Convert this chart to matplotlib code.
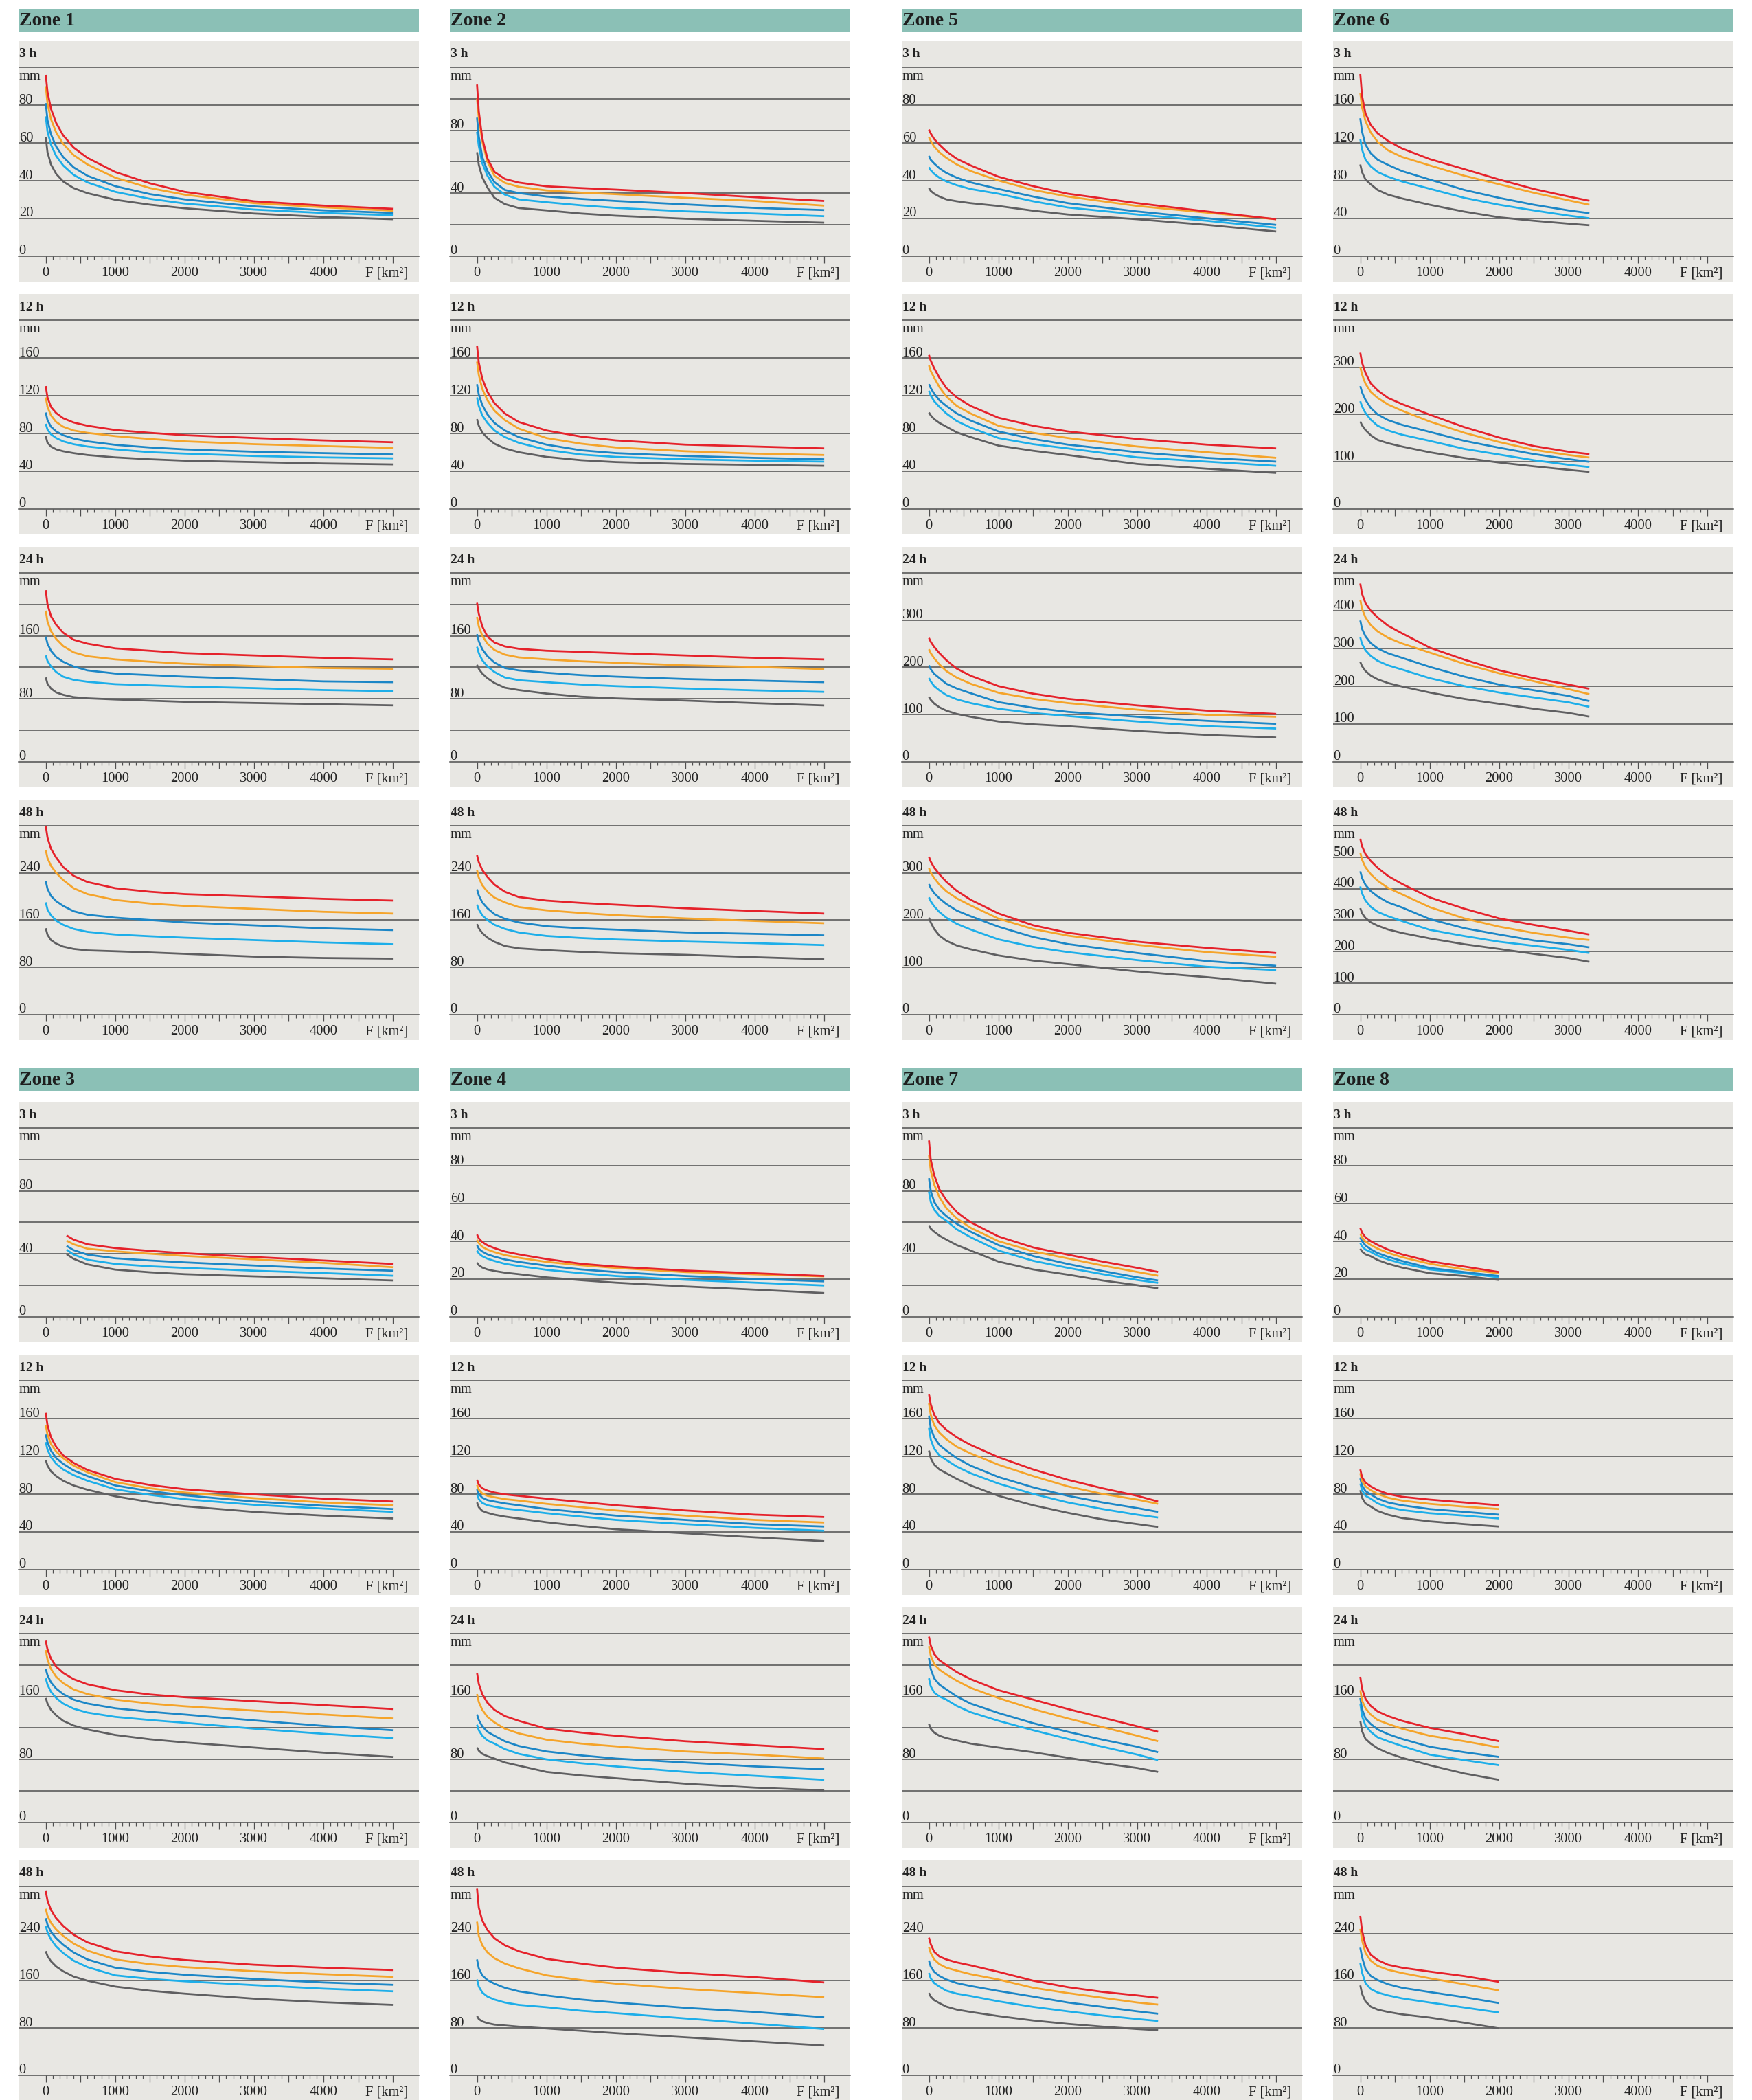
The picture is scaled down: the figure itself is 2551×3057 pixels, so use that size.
import matplotlib
matplotlib.use("Agg")
import matplotlib.pyplot as plt
from matplotlib.patches import Rectangle
from matplotlib.transforms import blended_transform_factory

plt.rcParams['font.family'] = ['Liberation Serif', 'DejaVu Serif']

# ---------------- data ----------------
# area F [km2] sample points at which curve values were read
F_FULL = [0, 25, 75, 150, 250, 400, 600, 1000, 1500, 2000, 3000, 4000, 5000]
F_3300 = [0, 25, 75, 150, 250, 400, 600, 1000, 1500, 2000, 2500, 3000, 3300]
F_2000 = [0, 25, 75, 150, 250, 400, 600, 1000, 1500, 2000]
F_Z3_3H = [300, 400, 600, 1000, 1500, 2000, 3000, 4000, 5000]

SERIES = ["red", "orange", "blue", "lightblue", "gray"]
DURATIONS = ["3 h", "12 h", "24 h", "48 h"]

# each list: red, orange, blue, light blue, gray  (mm)
Z1_3H = [[96, 87, 78, 70.5, 64, 57.5, 52, 44.5, 38.5, 34, 29, 26.7, 25],
         [90, 81, 72.5, 65.5, 59.5, 53.5, 48.5, 41.5, 36, 32.5, 28, 25.8, 24],
         [81, 72, 64.5, 58, 52.5, 47, 42.5, 37, 32.8, 30, 26.3, 24.2, 22.8],
         [74, 66, 59, 53, 48, 43, 39, 34, 30.3, 27.8, 24.6, 22.8, 21.6],
         [63, 55, 48.5, 43.5, 39.5, 36, 33.3, 29.8, 27.2, 25.3, 22.5, 20.7, 19.5]]
Z1_12H = [[130, 118, 108, 101.5, 96, 91.5, 88, 83.5, 80.5, 78, 75, 72.5, 70.5],
          [118, 108, 99, 92, 87, 83, 80.5, 77, 74, 71.5, 68.5, 66.5, 64.5],
          [102, 94, 87, 82, 78, 74.5, 71.5, 67.8, 65, 63, 60.5, 59, 57.6],
          [90, 84, 79, 75, 71.5, 68.5, 66, 63, 60, 58.5, 56, 54.5, 53.5],
          [77, 70, 66, 63, 61, 59, 57, 54.5, 52.5, 51, 49.5, 48, 47]]
Z1_24H = [[218, 200, 185, 174, 164, 155, 150, 144, 141, 138, 135, 132, 130],
          [192, 178, 166, 156, 147, 139, 134, 130, 127, 124.5, 121.5, 119, 118],
          [159, 150, 141, 133, 127, 121, 116, 112, 110, 108, 105, 102, 101],
          [135, 128, 121, 114, 108, 104, 101.5, 98.5, 97, 95.5, 93.5, 91, 89.5],
          [107, 99, 93, 88, 85, 82, 80.5, 79, 77.5, 76, 74.5, 73, 71.5]]
Z1_48H = [[320, 300, 281, 266, 250, 235, 224.5, 214, 208, 204, 200, 196, 193],
          [279, 265, 252, 240, 228, 214, 204, 194, 188, 184, 179, 174, 171],
          [226, 213, 201, 192, 184, 175, 169, 164, 160, 156, 151, 146, 143],
          [190, 178, 168, 159, 152, 145, 140, 135.5, 132.5, 130, 126, 122, 119],
          [146, 135, 126, 120, 115, 111, 108.5, 107, 105, 102.7, 98, 95.6, 94.5]]

Z2_3H = [[109, 92, 75, 62, 53.5, 49, 46.7, 44.3, 43.2, 42.2, 40, 37.4, 35],
         [100, 88, 73, 60, 51, 46.5, 44, 41.7, 40.3, 39.3, 37, 35, 32],
         [88, 76, 63, 54, 47, 42, 40, 37.8, 36.3, 35, 32.8, 30.6, 29.2],
         [79, 70, 59, 51, 44, 39, 36, 34.2, 32.2, 30.6, 28.4, 27, 25.3],
         [66, 58, 50, 43.5, 37, 33, 30.5, 29, 27, 25.6, 23.7, 22.4, 21.2]]
Z2_12H = [[173, 155, 138, 124, 112, 101, 92, 83, 76.5, 72.5, 68, 66, 64],
          [156, 142, 127, 115, 104, 94, 85, 75, 69, 65, 61, 58.5, 57],
          [132, 121, 110, 100, 91, 83, 76, 68, 62, 59, 56, 54, 52.5],
          [118, 109, 99, 91, 83, 76, 70, 62.5, 57.5, 55, 52.5, 51, 50],
          [95, 88, 81, 75, 69, 64, 60, 55, 51.5, 49.5, 47.5, 46.5, 45.5]]
Z2_24H = [[202, 188, 172, 159, 151.5, 146.5, 143.5, 141, 139.5, 138, 135, 132, 130],
          [184, 172, 160, 150, 142, 136, 132.5, 130, 127.5, 125.7, 122.4, 120.4, 117.6],
          [162, 153, 143, 134, 126, 119, 116, 113, 110, 108, 105, 103, 101],
          [146, 138, 129, 121, 114, 107, 103.5, 101, 98, 96, 93, 90.6, 88.6],
          [123, 118, 112, 106, 100, 94, 91, 86.5, 82.5, 80.4, 77.6, 74.3, 71.4]]
Z2_48H = [[270, 258, 245, 233, 220, 208, 199, 193, 189, 186, 180, 175.4, 171],
          [245, 232, 219, 208, 198, 190, 182, 176.5, 172, 168.3, 162.8, 158.5, 154.6],
          [212, 202, 190, 180, 170, 162, 156, 149.5, 146, 143.7, 139, 136.6, 134],
          [186, 178, 168, 160, 152, 145, 139, 133, 129.5, 127, 123.5, 120.8, 117.5],
          [153, 146, 138, 130, 123, 116, 112, 109, 106, 103.8, 101, 97, 93.4]]

Z5_3H = [[67, 65, 62, 59, 55.5, 51.5, 48, 42, 37, 33, 28, 23.6, 19.5],
         [63, 61, 58, 55, 52, 48.5, 45, 40, 35, 31.5, 26.5, 23, 19.5],
         [53, 51, 49, 46.5, 44, 41.5, 39, 35.5, 31.5, 28, 23.6, 20, 16.5],
         [47, 45.5, 43.5, 41.5, 39.5, 37.5, 35.5, 33, 29, 25.7, 22, 18.7, 15],
         [36, 34.5, 33, 31.5, 30, 29, 28, 26.5, 24, 22, 19.5, 16.5, 13]]
Z5_12H = [[163, 157, 149, 139, 128, 118, 109, 96.5, 88, 82, 74, 68, 64],
          [152, 146, 139, 129, 119, 109, 101, 88, 80.5, 75, 66, 60, 54],
          [132, 128, 122, 115, 109, 101, 93.5, 82, 74, 68, 60, 54, 50],
          [125, 120, 114, 108, 101, 93, 86, 75, 68.5, 64, 54.5, 50, 45.5],
          [102, 99, 95, 91, 87, 81, 76, 67, 61.5, 57, 47.5, 42.5, 38]]
Z5_24H = [[262, 254, 243, 230, 215, 197, 182, 160, 144, 133, 119, 108, 101],
          [238, 230, 219, 206, 192, 178, 165, 146, 133, 124, 110, 99, 95],
          [204, 196, 186, 177, 165, 155, 145, 126, 114, 105.4, 95, 86.4, 80],
          [177, 170, 160, 151, 141, 132, 124, 112, 103, 96.6, 85, 75, 70],
          [137, 131, 123, 115, 108, 101, 95, 85, 79, 75, 65, 56.5, 51]]
Z5_48H = [[334, 324, 311, 297, 281, 262, 243, 214, 189, 173, 154, 141, 130],
          [310, 301, 289, 275, 261, 246, 231, 203, 181, 167, 147.4, 132, 122],
          [276, 268, 257, 246, 234, 220, 208, 186, 164, 149, 130, 113, 103],
          [248, 240, 229, 217, 205, 192, 180, 159, 143, 132, 115, 101, 94],
          [205, 195, 181, 167, 156, 146, 138, 125, 114, 106.5, 91, 79, 65]]

Z6_3H = [[193, 170, 151, 139, 130, 122, 114, 102.7, 92, 81, 71, 63, 58.5],
         [173, 158, 143, 131, 121, 112, 105, 96, 85, 76, 67, 59, 54.3],
         [146, 132, 118, 109, 102, 96.5, 90, 81, 70, 61.6, 54.3, 48.3, 45.4],
         [124, 113, 102, 95, 89, 84, 79, 71.3, 61.6, 54.3, 48.3, 42.8, 40],
         [97, 89, 81, 76, 70, 65, 61, 54.3, 47, 41, 37.4, 34.3, 32.6]]
Z6_12H = [[331, 310, 288, 266, 251, 235, 222, 199.5, 173, 151, 133, 121, 116],
          [301, 285, 265, 248, 235, 221, 208, 185, 161, 141.5, 125, 114, 108.7],
          [260, 247, 231, 214, 200, 188, 178, 163, 144, 129.5, 116, 105.3, 99.5],
          [228, 217, 203, 189, 176, 166, 157, 144, 127, 115, 103, 93.2, 88.4],
          [185, 177, 167, 156, 146, 139, 132, 119.8, 107.7, 98, 90, 82.6, 78.3]]
Z6_24H = [[472, 445, 420, 400, 382, 360, 340, 302, 270, 242, 221, 204, 193],
          [429, 405, 382, 362, 345, 328, 313, 289, 259, 234, 213, 192, 178.6],
          [374, 352, 332, 314, 300, 287, 275, 251, 225, 204, 189, 174, 160],
          [329, 312, 295, 280, 267, 255, 244, 221, 200, 183, 170, 157, 145],
          [264, 253, 240, 228, 218, 208, 199, 183, 166, 153, 140, 129, 119]]
Z6_48H = [[559, 535, 510, 488, 466, 440, 415, 372, 336, 305, 284.5, 266, 254],
          [515, 492, 468, 446, 425, 402, 382, 341, 305, 279, 259, 243.6, 236.4],
          [455, 434, 412, 392, 375, 356, 340, 303, 274, 254, 235, 223, 213],
          [407, 385, 362, 342, 326, 312, 297, 269, 249, 231, 218, 205, 195],
          [338, 322, 306, 293, 282, 270, 259, 241.5, 223, 208, 192.4, 179, 167]]

Z3_3H = [[51.6, 49, 46, 43.6, 41.8, 40.3, 37.9, 35.7, 33.5],
         [48.3, 46, 43.2, 41.5, 40, 38.6, 36.4, 34.2, 31.4],
         [45, 42.3, 39.4, 37.1, 35.7, 34.5, 32.5, 30.6, 29.2],
         [42.6, 39.5, 36.2, 33.5, 32, 31, 29.2, 27.7, 26],
         [39.7, 36.8, 33.2, 29.9, 28.2, 27, 25.6, 24.4, 23]]
Z3_12H = [[166, 153, 140, 130, 121, 113, 105.5, 96, 89.5, 85, 79.5, 75, 72],
          [153, 143, 133, 125, 118, 110, 103, 92.5, 86, 81.5, 75.5, 71, 68],
          [143, 135, 126, 118, 112, 105, 99, 89, 83, 78.5, 72, 67.5, 64],
          [135, 127, 119, 112, 106, 100, 94, 85, 79, 74.5, 68.5, 64.5, 61],
          [116, 110, 104, 99, 94, 89, 84.5, 77.5, 71.5, 67, 61, 57, 54]]
Z3_24H = [[231, 220, 208, 198, 190, 182, 175.5, 168, 162.5, 159, 154, 149, 144],
          [219, 207, 195, 185, 177, 169, 163, 156, 151, 147.5, 142, 137, 132],
          [195, 187, 178, 170, 163, 156, 151, 145, 140.5, 137, 129.5, 122.5, 117],
          [183, 175, 166, 158, 151, 144.5, 139.5, 134, 130, 126.5, 119, 112.5, 107],
          [158, 151, 143, 136, 129, 123, 118, 111, 105.5, 101.5, 95, 88.5, 83]]
Z3_48H = [[312, 296, 280, 266, 253, 238, 225, 210, 201, 195, 187, 182, 178],
          [282, 270, 258, 247, 236, 223, 211, 196, 188, 183, 176, 171, 166.5],
          [266, 255, 243, 232, 221, 208, 196, 182, 175, 170, 163, 157, 153],
          [253, 242, 230, 218, 207, 194, 183, 169, 163, 159, 152.5, 146.5, 142],
          [210, 202, 193, 184, 176, 167, 160, 150, 143, 138, 129.5, 123.5, 119]]

Z4_3H = [[43.5, 41.5, 39.5, 37.8, 36.3, 34.5, 33, 30.5, 28, 26.5, 24.4, 23, 21.5],
         [40.7, 39, 37, 35.5, 34.2, 32.6, 31.2, 29, 27.2, 25.8, 23.6, 22.4, 21.3],
         [37.8, 36, 34.5, 33, 31.8, 30.3, 29, 27, 25, 23.6, 21.5, 20, 18.7],
         [35, 33.5, 32, 30.7, 29.5, 28, 26.8, 24.8, 23, 21.5, 19.5, 18, 16.5],
         [28.6, 27.3, 26, 25, 24.2, 23.3, 22.5, 20.8, 19.3, 18, 16, 14.3, 12.5]]
Z4_12H = [[95, 90, 86, 83.5, 81.5, 79.5, 78, 75, 71.5, 68, 62.5, 58, 55.5],
          [89.5, 84.5, 80.5, 78, 76.5, 74.5, 73, 69.5, 66, 62.5, 57, 52.5, 49.7],
          [85, 80, 76, 73.5, 72, 70, 68, 64, 60.5, 57, 52.5, 48, 45.4],
          [79.5, 74.5, 70.5, 68, 66.5, 64.5, 63, 59.6, 56, 52.5, 48, 44, 41],
          [71, 66, 62, 60, 58, 56, 54, 50, 46, 42.6, 38.3, 34, 30]]
Z4_24H = [[190, 176, 163, 152, 143, 135, 129, 119, 114, 110, 103, 98, 93],
          [163, 153, 143, 134, 127, 119, 113, 105, 100, 96.5, 90, 86, 81],
          [137, 130, 122, 115, 110, 103, 97, 90, 85, 81, 76, 71, 67.5],
          [124, 117, 110, 104, 100, 93, 87, 80, 75, 71, 64, 59, 54],
          [95, 91, 87, 84, 81, 76, 72, 64, 59.5, 56, 49, 44, 40.5]]
Z4_48H = [[316, 284, 262, 246, 232, 220, 210, 197, 189, 182, 173, 166, 157],
          [260, 236, 220, 208, 198, 189, 181, 169, 161, 155, 146, 139, 132],
          [196, 181, 169, 161, 155, 148, 142, 135, 128, 123, 114, 107, 98],
          [162, 150, 140, 133, 128, 123, 119, 115, 109, 105, 96, 87, 78],
          [100, 95, 91, 88, 85.5, 84, 82, 79, 75, 71, 64, 57, 50]]

Z7_3H = [[112, 100, 90, 81, 74, 66.5, 60, 51, 44, 39.4, 35, 31, 28.4],
         [103, 93, 84, 76, 69, 62.5, 56.5, 48, 41.5, 37, 32.5, 28.4, 26],
         [88, 80, 73, 68, 64, 59, 54, 45.5, 38.5, 33.5, 29, 25, 23],
         [79.5, 73, 68, 64, 61, 55.5, 50.5, 42, 35.5, 31, 27, 23.3, 21.5],
         [58, 56, 54, 51.5, 49, 45.5, 42, 35, 30, 26.7, 23, 20, 18]]
Z7_12H = [[186, 175, 164, 155, 148, 140, 132, 119, 106, 95, 86, 78, 72],
          [176, 164, 153, 145, 138, 130, 123, 111, 99, 88, 80, 74, 69.5],
          [163, 150, 140, 132, 126, 118, 110, 98, 87, 78, 71, 65, 61],
          [150, 138, 128, 121, 116, 109, 102, 91, 80, 71, 64, 58, 55],
          [126, 118, 111, 106, 102, 96, 89, 78, 68, 60, 53, 48, 45]]
Z7_24H = [[236, 225, 214, 206, 200, 191, 182, 168, 156, 144, 133, 122, 115],
          [224, 212, 201, 194, 188, 180, 171, 158, 144, 132, 121, 110, 103],
          [209, 195, 183, 175, 169, 160, 151, 139, 126, 115, 105, 96, 89],
          [183, 173, 165, 160, 156, 148, 140, 129, 117, 106, 96, 86, 79],
          [125, 119, 114, 110, 107, 104, 100, 95, 89, 82, 75, 69, 64]]
Z7_48H = [[233, 222, 209, 201, 196, 191, 186, 175, 160, 149, 141, 135, 131],
          [217, 207, 196, 188, 182, 177, 171, 162, 148, 139, 131, 123, 119.5],
          [194, 184, 175, 168, 162, 156, 151, 142.6, 133, 123, 115.6, 108, 104],
          [173, 164, 156, 150, 143, 138, 134, 125, 115.6, 108, 101, 95, 91.7],
          [139, 133, 127, 122, 116, 111, 107, 100, 92.5, 86.7, 82, 78, 76]]

Z8_3H = [[47, 44.5, 42, 40, 38, 35.5, 33, 29.3, 26.5, 23.6],
         [44, 42, 39.8, 38, 36, 33.8, 31.5, 28, 25, 23],
         [42, 40, 37.7, 35.7, 33.7, 31.7, 29.5, 25.8, 23.6, 21.5],
         [39, 37.2, 35.5, 34.3, 32.3, 30.3, 28.2, 25, 23, 20.8],
         [36, 34.5, 33, 32, 30, 28, 26, 23, 21.5, 19.4]]
Z8_12H = [[106, 98, 92, 88, 84, 80, 77, 74, 71, 68],
          [102, 94, 88, 84, 80, 76, 73, 69.5, 66.5, 64],
          [96.5, 89, 83, 79.5, 75, 71, 68, 64, 61, 58],
          [91, 84, 78, 75, 70, 66, 63, 59.6, 57, 54],
          [84, 76, 70, 66.7, 62, 58, 54.5, 51, 48, 45.4]]
Z8_24H = [[185, 170, 157, 148, 141, 135, 129, 120, 112, 103],
          [168, 155, 145, 137, 130, 125, 119, 110, 103, 95],
          [158, 144, 132, 125, 118, 112, 106, 96, 89, 83],
          [151, 135, 123, 115, 108, 103, 97, 86, 79, 72.5],
          [129, 116, 106, 100, 94, 88, 82, 72.5, 62, 54]]
Z8_48H = [[270, 245, 220, 204, 195, 187, 182, 175.4, 167.7, 158],
          [248, 229, 207, 194, 185, 178.5, 173, 164, 154, 143.4],
          [216, 200, 180, 168, 161, 154, 148, 140.7, 132, 122],
          [190, 174, 156, 146, 140, 135, 130, 123, 114.5, 106],
          [152, 138, 125, 116, 111, 107, 103, 97.5, 88.7, 79]]

# y-axis grids: (top value, step, labelled values)
Y_100 = (100, 20, [0, 20, 40, 60, 80])
Y_120 = (120, 20, [0, 40, 80])
Y_200 = (200, 40, [0, 40, 80, 120, 160])
Y_240 = (240, 40, [0, 80, 160])
Y_320 = (320, 80, [0, 80, 160, 240])
Y_400 = (400, 100, [0, 100, 200, 300])
Y_500 = (500, 100, [0, 100, 200, 300, 400])
Y_600 = (600, 100, [0, 100, 200, 300, 400, 500])

ZONES = [
    # name, column, group, F grid per panel, data per panel, y grid per panel
    ("Zone 1", 0, 0, [F_FULL] * 4, [Z1_3H, Z1_12H, Z1_24H, Z1_48H], [Y_100, Y_200, Y_240, Y_320]),
    ("Zone 2", 1, 0, [F_FULL] * 4, [Z2_3H, Z2_12H, Z2_24H, Z2_48H], [Y_120, Y_200, Y_240, Y_320]),
    ("Zone 5", 2, 0, [F_FULL] * 4, [Z5_3H, Z5_12H, Z5_24H, Z5_48H], [Y_100, Y_200, Y_400, Y_400]),
    ("Zone 6", 3, 0, [F_3300] * 4, [Z6_3H, Z6_12H, Z6_24H, Z6_48H], [Y_200, Y_400, Y_500, Y_600]),
    ("Zone 3", 0, 1, [F_Z3_3H, F_FULL, F_FULL, F_FULL], [Z3_3H, Z3_12H, Z3_24H, Z3_48H], [Y_120, Y_200, Y_240, Y_320]),
    ("Zone 4", 1, 1, [F_FULL] * 4, [Z4_3H, Z4_12H, Z4_24H, Z4_48H], [Y_100, Y_200, Y_240, Y_320]),
    ("Zone 7", 2, 1, [F_3300] * 4, [Z7_3H, Z7_12H, Z7_24H, Z7_48H], [Y_120, Y_200, Y_240, Y_320]),
    ("Zone 8", 3, 1, [F_2000] * 4, [Z8_3H, Z8_12H, Z8_24H, Z8_48H], [Y_100, Y_200, Y_240, Y_320]),
]

# ---------------- style / layout ----------------
W, H = 2551, 3057
COLORS = {"red": "#E5222B", "orange": "#F5A42A", "blue": "#1C86C6",
          "lightblue": "#1DAEE9", "gray": "#5F5F61"}
BG = "#E8E7E3"
HEAD = "#8BC0B6"
GRID = "#4F4F4F"
TXT = "#222222"
FS = 14.8

COL_X = [27, 655, 1313, 1941]
PW = 583
PH = 350
HEAD_Y = [13, 1555]
HEAD_H = 33
PANEL_Y = [[60, 428, 796, 1164], [1604, 1972, 2340, 2708]]

fig = plt.figure(figsize=(W / 100, H / 100), dpi=100)
fig.patch.set_facecolor("white")


def fig_rect(x, y, w, h):
    return [x / W, 1 - (y + h) / H, w / W, h / H]


def draw_panel(x, y, title, F, curves, ygrid):
    top, step, labelled = ygrid
    ax = fig.add_axes(fig_rect(x, y, PW, PH))
    ax.set_facecolor(BG)
    ax.set_xlim(-392, 5375)
    ax.set_ylim(-0.1362 * top, 1.1384 * top)
    for s in ("top", "left", "right"):
        ax.spines[s].set_visible(False)
    ax.spines["bottom"].set_position(("data", 0))
    ax.spines["bottom"].set_color(GRID)
    ax.spines["bottom"].set_linewidth(1.1)
    ax.set_yticks([])
    major = list(range(0, 5001, 500))
    ax.set_xticks(major)
    ax.set_xticklabels([str(v) if (v % 1000 == 0 and v < 5000) else "" for v in major])
    ax.set_xticks(list(range(0, 5001, 100)), minor=True)
    ax.tick_params(axis="x", which="major", direction="out", length=7.5, width=0.9,
                   color=GRID, pad=3.5, labelsize=FS, labelcolor=TXT)
    ax.tick_params(axis="x", which="minor", direction="out", length=3.8, width=0.9, color=GRID)

    for v in range(step, top + 1, step):
        ax.axhline(v, color=GRID, lw=1.1, zorder=1)

    tr = blended_transform_factory(ax.transAxes, ax.transData)
    for v in labelled:
        ax.annotate(str(v), xy=(0, v), xycoords=tr, xytext=(0.5, 1.6),
                    textcoords="offset points", ha="left", va="baseline",
                    fontsize=FS, color=TXT)
    ax.annotate("mm", xy=(0, top), xycoords=tr, xytext=(0.5, -13.2),
                textcoords="offset points", ha="left", va="baseline",
                fontsize=FS, color=TXT)
    ax.text(0.002, 1 - 19 / PH, title, transform=ax.transAxes, ha="left", va="center",
            fontsize=14, fontweight="bold", color=TXT)
    ax.annotate("F [km²]", xy=(4910, 0), xycoords="data", xytext=(0, -18.5),
                textcoords="offset points", ha="center", va="center",
                fontsize=FS, color=TXT)

    for name, vals in reversed(list(zip(SERIES, curves))):
        ax.plot(F, vals, color=COLORS[name], lw=2.0, solid_capstyle="butt",
                solid_joinstyle="round", zorder=3)
    return ax


for name, col, grp, Fs, data, ygrids in ZONES:
    x = COL_X[col]
    hy = HEAD_Y[grp]
    fig.add_artist(Rectangle((x / W, 1 - (hy + HEAD_H) / H), PW / W, HEAD_H / H,
                             transform=fig.transFigure, facecolor=HEAD, edgecolor="none"))
    fig.text((x + 1) / W, 1 - (hy + HEAD_H / 2 + 1) / H, name, ha="left", va="center",
             fontsize=20, fontweight="bold", color="#1E1E1E")
    for i in range(4):
        draw_panel(x, PANEL_Y[grp][i], DURATIONS[i], Fs[i], data[i], ygrids[i])

fig.savefig("out.png", dpi=100, facecolor="white")
